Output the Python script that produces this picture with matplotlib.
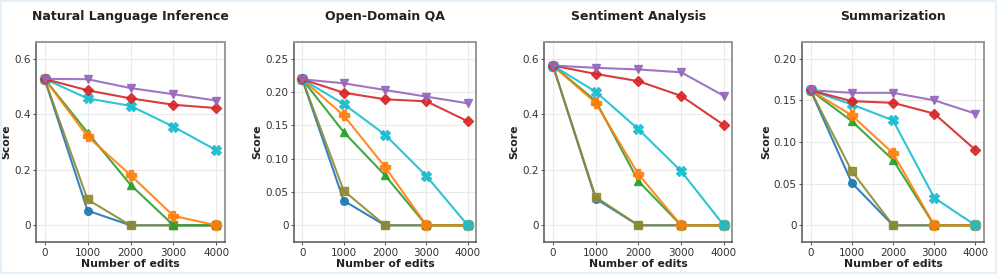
import numpy as np
import matplotlib
matplotlib.use('Agg')
import matplotlib.pyplot as plt
import matplotlib.ticker as ticker
import matplotlib.patches as mpl_patches

# data
aEdits = [0, 1000, 2000, 3000, 4000]
aTitles = ['Natural Language Inference', 'Open-Domain QA', 'Sentiment Analysis', 'Summarization']

# series order = drawing order (later on top)
aSeries = ['blue', 'olive', 'green', 'orange', 'cyan', 'red', 'purple']

nli = {
    'blue':   [0.527, 0.053, 0.0, 0.0, 0.0],
    'olive':  [0.527, 0.093, 0.0, 0.0, 0.0],
    'green':  [0.527, 0.334, 0.146, 0.0, 0.0],
    'orange': [0.527, 0.320, 0.181, 0.034, 0.0],
    'cyan':   [0.527, 0.457, 0.430, 0.355, 0.270],
    'red':    [0.527, 0.486, 0.457, 0.434, 0.422],
    'purple': [0.527, 0.526, 0.494, 0.472, 0.449],
}
odqa = {
    'blue':   [0.219, 0.037, 0.0, 0.0, 0.0],
    'olive':  [0.219, 0.052, 0.0, 0.0, 0.0],
    'green':  [0.219, 0.140, 0.075, 0.0, 0.0],
    'orange': [0.219, 0.165, 0.0876, 0.0, 0.0],
    'cyan':   [0.219, 0.182, 0.136, 0.074, 0.0],
    'red':    [0.219, 0.199, 0.189, 0.186, 0.156],
    'purple': [0.219, 0.213, 0.203, 0.193, 0.183],
}
sa = {
    'blue':   [0.575, 0.096, 0.0, 0.0, 0.0],
    'olive':  [0.575, 0.102, 0.0, 0.0, 0.0],
    'green':  [0.575, 0.448, 0.159, 0.0, 0.0],
    'orange': [0.575, 0.441, 0.184, 0.0, 0.0],
    'cyan':   [0.575, 0.481, 0.346, 0.195, 0.0],
    'red':    [0.575, 0.545, 0.519, 0.466, 0.361],
    'purple': [0.575, 0.567, 0.561, 0.551, 0.466],
}
summ = {
    'blue':   [0.162, 0.051, 0.0, 0.0, 0.0],
    'olive':  [0.162, 0.065, 0.0, 0.0, 0.0],
    'green':  [0.162, 0.125, 0.0785, 0.0, 0.0],
    'orange': [0.162, 0.132, 0.0865, 0.0, 0.0],
    'cyan':   [0.162, 0.145, 0.126, 0.033, 0.0],
    'red':    [0.162, 0.149, 0.147, 0.134, 0.0904],
    'purple': [0.162, 0.159, 0.159, 0.150, 0.134],
}
aData = [nli, odqa, sa, summ]

aYtop = [0.6, 0.25, 0.6, 0.20]
aYstep = [0.2, 0.05, 0.2, 0.05]
aYfmt = ['%.1f', '%.2f', '%.1f', '%.2f']

dColor = {'blue': 'tab:blue', 'olive': '#8f8a33', 'green': 'tab:green',
          'orange': 'tab:orange', 'cyan': 'tab:cyan', 'red': 'tab:red',
          'purple': 'tab:purple'}
dMarker = {'blue': 'o', 'olive': 's', 'green': '^', 'orange': 'P',
           'cyan': 'X', 'red': 'D', 'purple': 'v'}
dSize = {'blue': 5.5, 'olive': 5.5, 'green': 6, 'orange': 6.5,
         'cyan': 6.5, 'red': 5.5, 'purple': 6}

fig = plt.figure(figsize=(9.97, 2.74), dpi=100)

# axes rectangles in figure fraction
aRect = [[0.0361, 0.1168, 0.1896, 0.730],
         [0.2949, 0.1168, 0.1826, 0.730],
         [0.5460, 0.1168, 0.1886, 0.730],
         [0.8047, 0.1168, 0.1820, 0.730]]

for i in range(4):
    ax = fig.add_axes(aRect[i])
    dPanel = aData[i]
    for s in aSeries:
        ax.plot(aEdits, dPanel[s], color=dColor[s], marker=dMarker[s],
                markersize=dSize[s], linewidth=1.5, alpha=0.9)

    dTop = aYtop[i]
    ax.set_ylim(-0.1 * dTop, 1.1 * dTop)
    ax.set_xlim(-200, 4200)
    ax.set_xticks(aEdits)
    ax.set_yticks(np.arange(0, dTop + 1e-9, aYstep[i]))
    sFmt = aYfmt[i]
    ax.yaxis.set_major_formatter(ticker.FuncFormatter(
        lambda v, p, f=sFmt: '0' if abs(v) < 1e-9 else f % v))

    ax.grid(True, color='#ebebeb', linewidth=0.8)
    ax.set_axisbelow(True)
    ax.tick_params(labelsize=7.5, length=2, width=0.6, colors='#333333', pad=2)

    for sp in ['left', 'bottom']:
        ax.spines[sp].set_color('#555555')
        ax.spines[sp].set_linewidth(1.1)
    for sp in ['top', 'right']:
        ax.spines[sp].set_color('#999999')
        ax.spines[sp].set_linewidth(1.4)

    ax.set_title(aTitles[i], fontsize=9, fontweight='bold', color='#222222', pad=16)
    ax.set_xlabel('Number of edits', fontsize=7.8, fontweight='bold', color='#222222', labelpad=1)
    ax.set_ylabel('Score', fontsize=7.8, fontweight='bold', color='#222222', labelpad=2)

# light blue frame around the picture
fig.patches.append(mpl_patches.Rectangle((0, 0), 1, 1, transform=fig.transFigure,
                                         fill=False, edgecolor='#e3f0fa', linewidth=3))

plt.savefig('out.png', dpi=100)
plt.close('all')
